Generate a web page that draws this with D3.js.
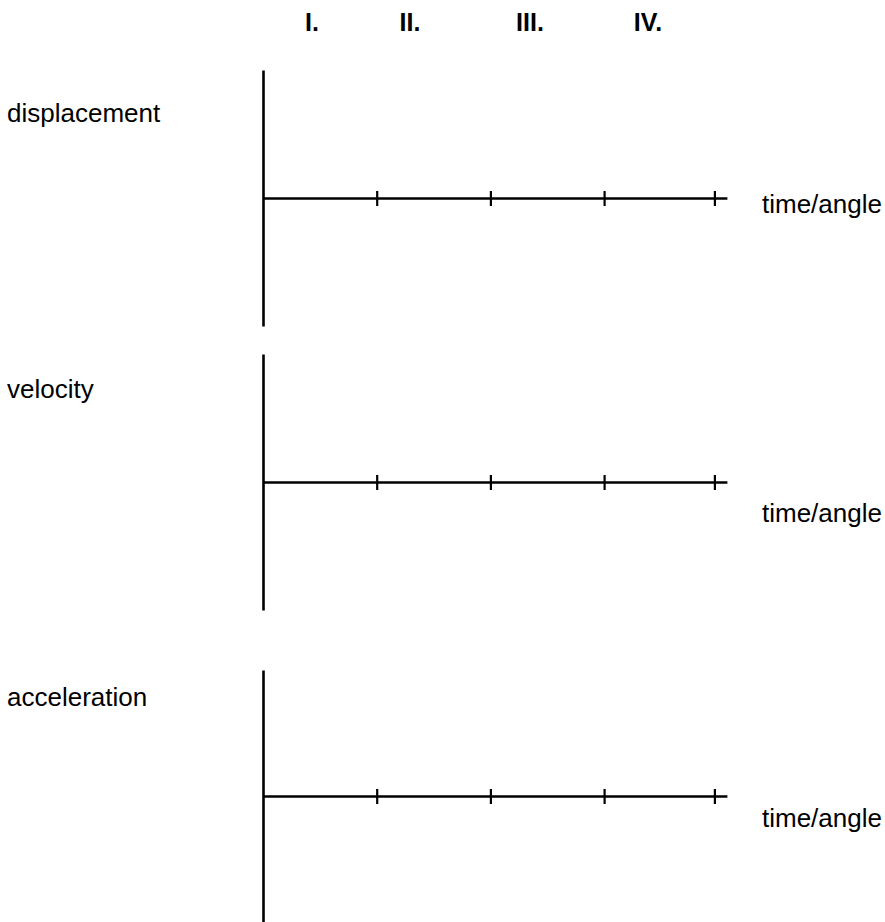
<!DOCTYPE html>
<html>
<head>
<meta charset="utf-8">
<script src="https://cdn.jsdelivr.net/npm/d3@7"></script>
<style>
  body { margin: 0; background: #fff; }
  text { font-family: Arial, "Liberation Sans", sans-serif; fill: #000; }
</style>
</head>
<body>
<script>
// data
var quarters = ["I.", "II.", "III.", "IV."]
var quantities = ["displacement", "velocity", "acceleration"]
var xLabel = "time/angle"
var tickVals = [1, 2, 3, 3.97]
var xDomain = [0, 4.08]
var yDomain = [-1, 1]

// layout
var svgWidth = 885
var svgHeight = 922
var axisLeft = 263
var unit = 113.7
var headerX = [312, 410, 530, 648]
var panelTop = [70, 354, 670]
var panelAxis = [197, 481, 797]
var panelBottom = [326, 610, 922]
var nameBase = [122, 398, 706]
var xLabelBase = [213, 522, 827]

var svg = d3.select("body").append("svg")
    .attr("width", svgWidth)
    .attr("height", svgHeight)

var x = d3.scaleLinear()
    .domain(xDomain)
    .range([axisLeft, axisLeft + unit * xDomain[1]])

// roman numeral headers
svg.selectAll(".head")
    .data(quarters)
    .enter().append("text")
    .attr("class", "head")
    .attr("x", function(d, i) { return headerX[i] })
    .attr("y", 31)
    .attr("text-anchor", "middle")
    .style("font-size", "25px")
    .style("font-weight", "bold")
    .text(function(d) { return d })

quantities.forEach(function(name, i) {
    var g = svg.append("g")

    // y runs symmetric around the time axis
    var y = d3.scaleLinear()
        .domain(yDomain)
        .range([panelBottom[i], panelTop[i]])

    // vertical axis, no ticks
    var yAxis = g.append("g")
        .attr("transform", "translate(" + axisLeft + ",0)")
        .call(d3.axisLeft(y).tickValues([]).tickSizeOuter(0))
    yAxis.select(".domain").attr("stroke", "#000").attr("stroke-width", 2.6)

    // time axis with cross ticks
    var xAxis = g.append("g")
        .attr("transform", "translate(0," + y(0) + ")")
        .call(d3.axisBottom(x).tickValues(tickVals).tickFormat("").tickSizeOuter(0))
    xAxis.select(".domain").attr("stroke", "#000").attr("stroke-width", 2.6)
    xAxis.selectAll(".tick line")
        .attr("y1", -7)
        .attr("y2", 8)
        .attr("stroke", "#000")
        .attr("stroke-width", 2.2)

    g.append("text")
        .attr("x", 7)
        .attr("y", nameBase[i])
        .style("font-size", "26px")
        .text(name)

    g.append("text")
        .attr("x", 762)
        .attr("y", xLabelBase[i])
        .style("font-size", "26px")
        .text(xLabel)
})
</script>
</body>
</html>
